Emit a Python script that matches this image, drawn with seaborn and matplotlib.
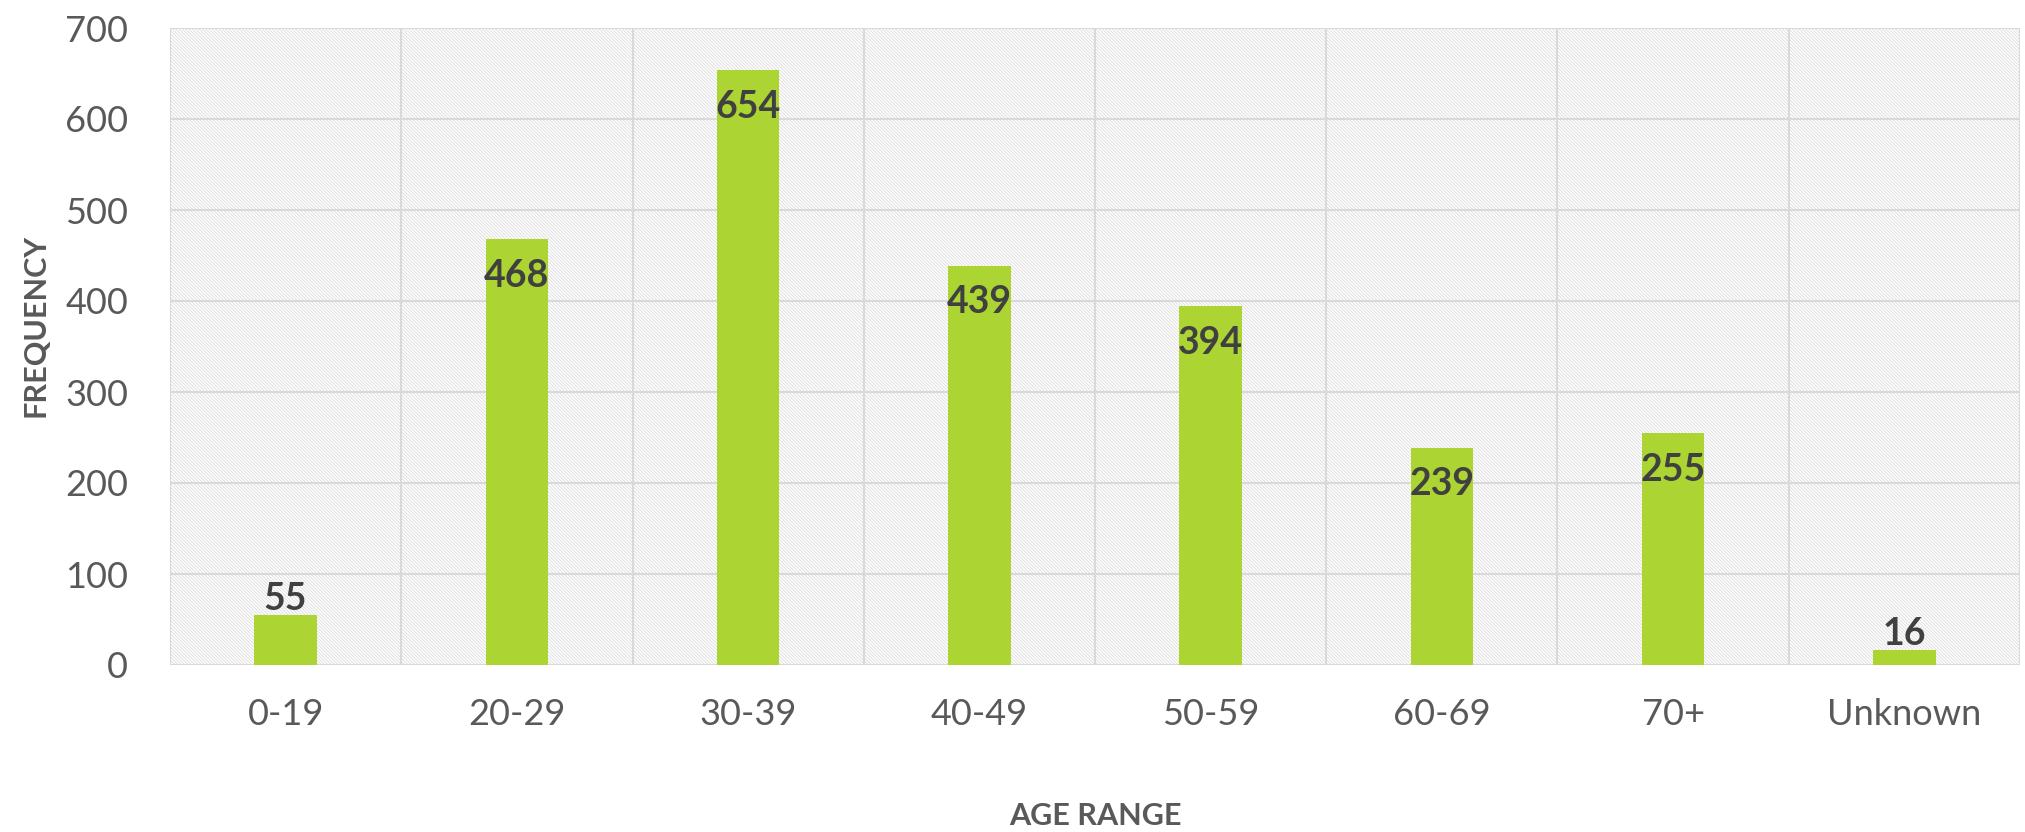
import matplotlib
matplotlib.use("Agg")
import matplotlib.pyplot as plt
import seaborn as sns
import pandas as pd
from matplotlib.patches import Rectangle

# Age range frequencies
age_ranges = ["0-19", "20-29", "30-39", "40-49", "50-59", "60-69", "70+", "Unknown"]
frequencies = [55, 468, 654, 439, 394, 239, 255, 16]
y_ticks = [0, 100, 200, 300, 400, 500, 600, 700]

bar_color = "#acd433"
grid_color = "#d9d9d9"
text_color = "#595959"
label_color = "#404040"

df = pd.DataFrame({"age_range": age_ranges, "frequency": frequencies})

sns.set_style("white")
plt.rcParams["font.family"] = ["Lato", "DejaVu Sans"]
plt.rcParams["hatch.color"] = "#dcdcdc"
plt.rcParams["hatch.linewidth"] = 0.6

fig = plt.figure(figsize=(20.25, 8.32), dpi=100)
ax = fig.add_axes([170 / 2025, 1 - 665 / 832, 1850 / 2025, 637 / 832])

sns.barplot(data=df, x="age_range", y="frequency", color=bar_color, width=0.27,
            saturation=1, linewidth=0, ax=ax, zorder=3)

# hatched plot background
ax.add_patch(Rectangle((0, 0), 1, 1, transform=ax.transAxes, facecolor="none",
                       edgecolor="#dcdcdc", hatch="\\" * 10, linewidth=0, zorder=0))

ax.set_ylim(0, 700)
ax.set_xlim(-0.5, len(age_ranges) - 0.5)
ax.set_yticks(y_ticks)

# grid lines
for v in y_ticks:
    ax.axhline(v, color=grid_color, lw=1.5, zorder=1)
for i in range(len(age_ranges) + 1):
    ax.axvline(i - 0.5, color=grid_color, lw=1.5, zorder=1)
for s in ax.spines.values():
    s.set_visible(False)

# data labels
for bar, val in zip(ax.containers[0], frequencies):
    x = bar.get_x() + bar.get_width() / 2
    top = bar.get_height()
    off = 11.5 if val < 100 else -26.5
    ax.annotate(str(val), (x, top), xytext=(0, off), textcoords="offset points",
                ha="center", va="center", fontsize=27, fontweight="bold",
                color=label_color, zorder=5)

ax.tick_params(axis="both", length=0, labelsize=26, labelcolor=text_color)
ax.tick_params(axis="y", pad=30)
ax.tick_params(axis="x", pad=24)
ax.set_xlabel("")
ax.set_ylabel("")
fig.text(36 / 2025, 1 - 325 / 832, "FREQUENCY", rotation=90, ha="center", va="center",
         fontsize=22, fontweight="bold", color=text_color)
fig.text(0.5 * (170 + 2020) / 2025, 1 - 816 / 832, "AGE RANGE", ha="center", va="center",
         fontsize=22, fontweight="bold", color=text_color)

fig.savefig("out.png", dpi=100)
